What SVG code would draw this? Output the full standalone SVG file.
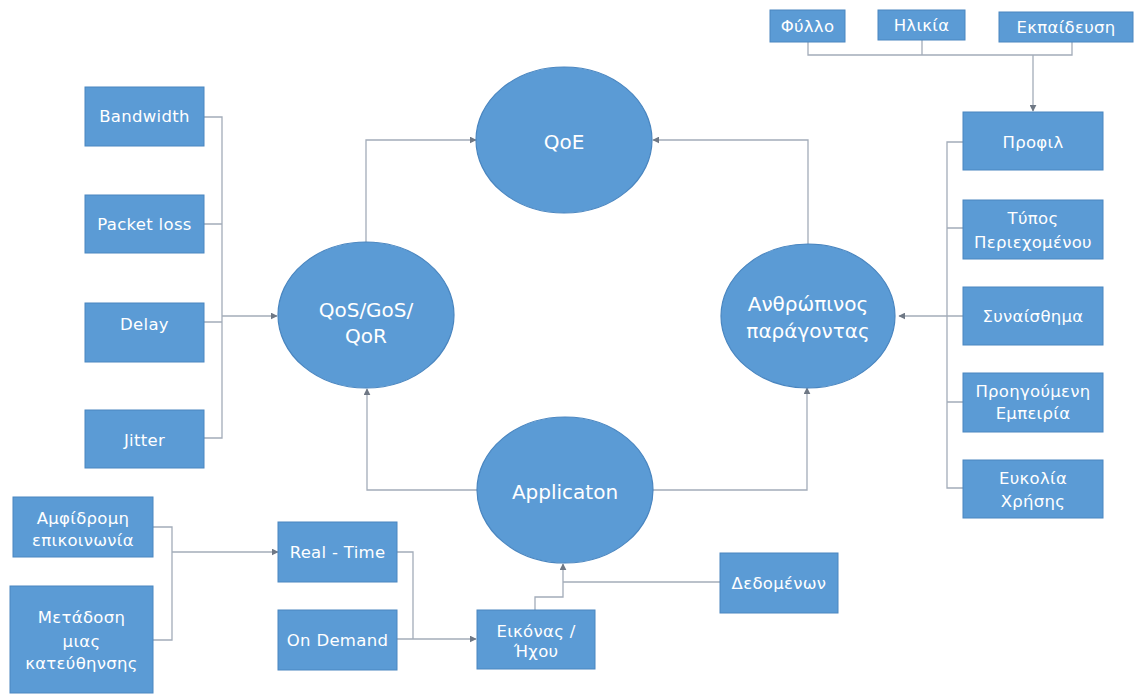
<svg xmlns="http://www.w3.org/2000/svg" width="1140" height="698" viewBox="0 0 1140 698">
<defs>
<style>
.box{fill:#5b9bd5;stroke:#4a86c0;stroke-width:1}
.ell{fill:#5b9bd5;stroke:#4a86c0;stroke-width:1.2}
.t{font-family:"DejaVu Sans","Liberation Sans",sans-serif;font-size:16.5px;letter-spacing:0.3px;fill:#ffffff;text-anchor:middle;dominant-baseline:central}
.te{font-family:"DejaVu Sans","Liberation Sans",sans-serif;font-size:20px;fill:#ffffff;text-anchor:middle;dominant-baseline:central}
.c{fill:none;stroke:#a3acb9;stroke-width:1.3}
.a{marker-end:url(#arr)}
</style>
<marker id="arr" viewBox="0 0 10 10" refX="9" refY="5" markerWidth="7" markerHeight="7" markerUnits="userSpaceOnUse" orient="auto">
<path d="M0,0 L10,5 L0,10 z" fill="#6f7885"/>
</marker>
</defs>
<rect width="1140" height="698" fill="#ffffff"/>

<g id="connectors">
<path class="c" d="M808,42 V55 H1072 V42 M922,40 V55"/>
<path class="c a" d="M1033,55 V111"/>
<path class="c" d="M963,142 H947 V488 H963 M947,228 H963 M947,402 H963"/>
<path class="c a" d="M963,316 H899"/>
<path class="c" d="M204,117 H222 V438 H204 M204,224 H222 M204,322 H222"/>
<path class="c a" d="M222,316 H277"/>
<path class="c a" d="M366,242 V140 H476"/>
<path class="c a" d="M808,245 V140 H653"/>
<path class="c a" d="M477,490 H367 V389"/>
<path class="c a" d="M653,490 H807 V388"/>
<path class="c a" d="M535,610 V597 H563 V564"/>
<path class="c" d="M720,582 H563"/>
<path class="c" d="M153,527 H172 V640 H153"/>
<path class="c a" d="M172,552 H278"/>
<path class="c" d="M397,552 H413 V639"/>
<path class="c a" d="M397,639 H476"/>
</g>

<g id="n-fylo"><rect class="box" x="770" y="10" width="75" height="32"/><text class="t" x="807.5" y="26">Φύλλο</text></g>
<g id="n-ilikia"><rect class="box" x="878" y="10" width="87" height="30"/><text class="t" x="921.5" y="25">Ηλικία</text></g>
<g id="n-ekpaideusi"><rect class="box" x="999" y="12" width="134" height="30"/><text class="t" x="1066" y="27">Εκπαίδευση</text></g>

<g id="n-profil"><rect class="box" x="963" y="112" width="140" height="58"/><text class="t" x="1033" y="142">Προφιλ</text></g>
<g id="n-typos"><rect class="box" x="963" y="200" width="140" height="59"/><text class="t" x="1033" y="218">Τύπος</text><text class="t" x="1033" y="242">Περιεχομένου</text></g>
<g id="n-synais"><rect class="box" x="963" y="287" width="140" height="58"/><text class="t" x="1033" y="316">Συναίσθημα</text></g>
<g id="n-proig"><rect class="box" x="963" y="373" width="140" height="59"/><text class="t" x="1033" y="391">Προηγούμενη</text><text class="t" x="1033" y="413">Εμπειρία</text></g>
<g id="n-eukolia"><rect class="box" x="963" y="460" width="140" height="58"/><text class="t" x="1033" y="478">Ευκολία</text><text class="t" x="1033" y="501">Χρήσης</text></g>

<g id="n-bandwidth"><rect class="box" x="85" y="87" width="119" height="59"/><text class="t" x="144.5" y="116">Bandwidth</text></g>
<g id="n-packetloss"><rect class="box" x="85" y="195" width="119" height="58"/><text class="t" x="144.5" y="224">Packet loss</text></g>
<g id="n-delay"><rect class="box" x="85" y="303" width="119" height="59"/><text class="t" x="144.5" y="324">Delay</text></g>
<g id="n-jitter"><rect class="box" x="85" y="410" width="119" height="58"/><text class="t" x="144.5" y="440">Jitter</text></g>

<g id="n-qoe"><ellipse class="ell" cx="564" cy="140" rx="88" ry="73"/><text class="te" x="564" y="142">QoE</text></g>
<g id="n-qos"><ellipse class="ell" cx="366" cy="315" rx="88" ry="73"/><text class="te" x="366" y="310">QoS/GoS/</text><text class="te" x="366" y="336">QoR</text></g>
<g id="n-human"><ellipse class="ell" cx="808" cy="316" rx="87" ry="72"/><text class="te" x="808" y="304">Ανθρώπινος</text><text class="te" x="808" y="331">παράγοντας</text></g>
<g id="n-app"><ellipse class="ell" cx="565" cy="490" rx="88" ry="73"/><text class="te" x="565" y="492">Applicaton</text></g>

<g id="n-amfidromi"><rect class="box" x="13" y="497" width="140" height="60"/><text class="t" x="83" y="518">Αμφίδρομη</text><text class="t" x="83" y="540">επικοινωνία</text></g>
<g id="n-metadosi"><rect class="box" x="10" y="586" width="143" height="107"/><text class="t" x="81.5" y="617">Μετάδοση</text><text class="t" x="81.5" y="641">μιας</text><text class="t" x="81.5" y="663">κατεύθηνσης</text></g>
<g id="n-realtime"><rect class="box" x="278" y="522" width="119" height="60"/><text class="t" x="337.5" y="552">Real - Time</text></g>
<g id="n-ondemand"><rect class="box" x="278" y="610" width="119" height="60"/><text class="t" x="337.5" y="640">On Demand</text></g>
<g id="n-eikonas"><rect class="box" x="477" y="610" width="118" height="59"/><text class="t" x="536" y="631">Εικόνας /</text><text class="t" x="536" y="651">Ήχου</text></g>
<g id="n-dedomenon"><rect class="box" x="720" y="553" width="118" height="60"/><text class="t" x="779" y="583">Δεδομένων</text></g>
</svg>
